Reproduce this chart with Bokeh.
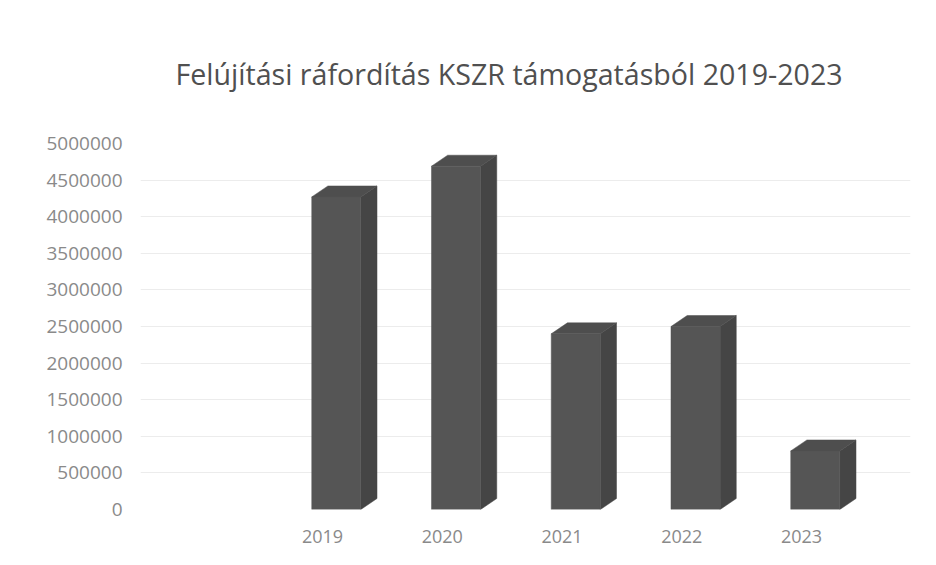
from bokeh.plotting import figure
from bokeh.models import FixedTicker, BasicTickFormatter, ColumnDataSource
from bokeh.embed import file_html
from bokeh.resources import INLINE

# ---- data ----
years = ["2019", "2020", "2021", "2022", "2023"]
values = [4270000, 4690000, 2400000, 2500000, 800000]
y_ticks = [0, 500000, 1000000, 1500000, 2000000, 2500000,
           3000000, 3500000, 4000000, 4500000, 5000000]
title_text = "Felújítási ráfordítás KSZR támogatásból 2019-2023"

# ---- pseudo-3D bar geometry (style constants) ----
FRONT_L, FRONT_R = -0.09, 0.32   # front face offsets from category position
DX, DY = 0.135, 150000           # depth offset (right / up)

xs_pos = list(range(len(years)))
front = ColumnDataSource(dict(
    left=[i + FRONT_L for i in xs_pos],
    right=[i + FRONT_R for i in xs_pos],
    top=values,
    bottom=[0] * len(values),
))
top_xs, top_ys, side_xs, side_ys = [], [], [], []
for i, v in zip(xs_pos, values):
    l, r = i + FRONT_L, i + FRONT_R
    top_xs.append([l, l + DX, r + DX, r])
    top_ys.append([v, v + DY, v + DY, v])
    side_xs.append([r, r + DX, r + DX, r])
    side_ys.append([0, DY, v + DY, v])

p = figure(width=920, height=549, output_backend="svg", toolbar_location=None,
           x_range=(-1.52, 4.91), y_range=(0, 5000000),
           min_border_left=140, min_border_right=10,
           min_border_top=143, min_border_bottom=40)
p.background_fill_color = "white"
p.border_fill_color = "white"
p.outline_line_color = None

p.title.text = title_text
p.title.text_font = "Open Sans"
p.title.text_font_size = "28.6px"
p.title.text_font_style = "normal"
p.title.text_color = "#505050"
p.title.align = "left"
p.title.offset = 35
p.title.standoff = 101

# bars
p.patches(side_xs, side_ys, fill_color="#454545", line_color="#454545", line_width=0.5)
p.patches(top_xs, top_ys, fill_color="#4e4e4e", line_color="#4e4e4e", line_width=0.5)
p.quad(left="left", right="right", top="top", bottom="bottom", source=front,
       fill_color="#555555", line_color="#555555", line_width=0.5)

# axes
p.yaxis.ticker = FixedTicker(ticks=y_ticks)
p.yaxis.formatter = BasicTickFormatter(use_scientific=False)
p.xaxis.ticker = FixedTicker(ticks=xs_pos)
p.xaxis.major_label_overrides = {i: y for i, y in zip(xs_pos, years)}
for ax in (p.xaxis, p.yaxis):
    ax.axis_line_color = None
    ax.major_tick_line_color = None
    ax.minor_tick_line_color = None
    ax.major_label_text_font = "Open Sans"
    ax.major_label_text_color = "#8a8a8a"
p.yaxis.major_label_text_font_size = "19px"
p.xaxis.major_label_text_font_size = "18px"
p.yaxis.major_label_standoff = 12
p.xaxis.major_label_standoff = 14

p.xgrid.grid_line_color = None
p.ygrid.grid_line_color = "#ececec"
p.ygrid.ticker = FixedTicker(ticks=y_ticks)

open("out.html", "w").write(file_html(p, INLINE))
